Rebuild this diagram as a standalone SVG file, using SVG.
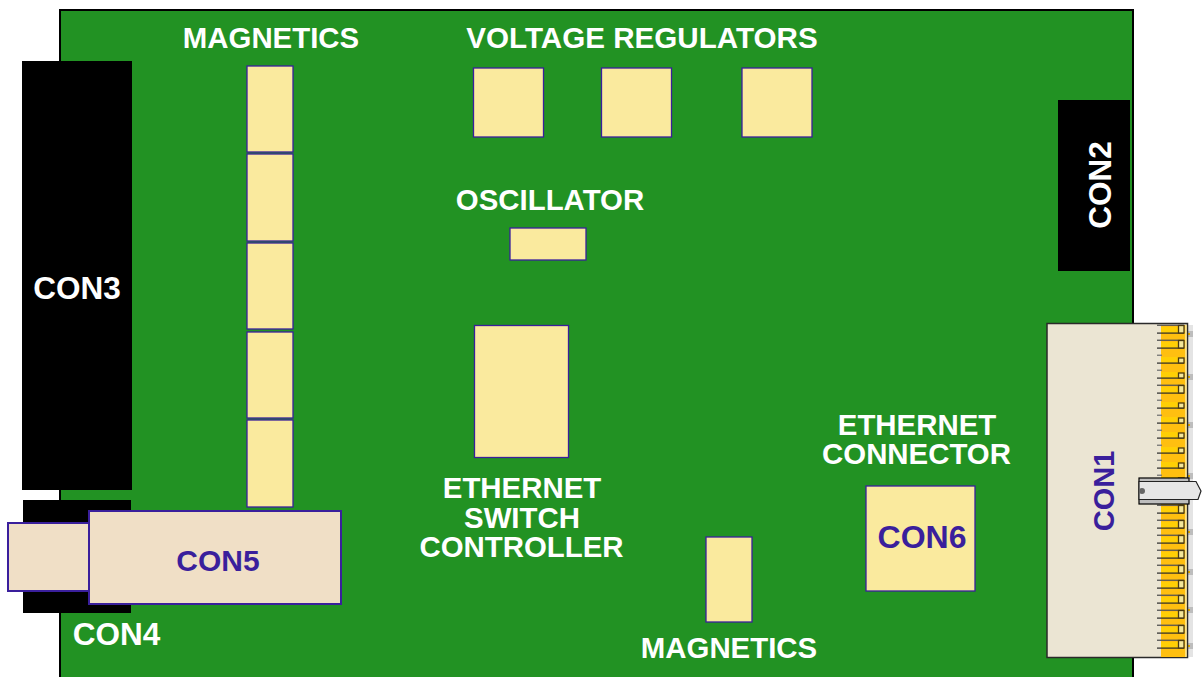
<svg xmlns="http://www.w3.org/2000/svg" width="1202" height="677" viewBox="0 0 1202 677">
<style>
.l{font-family:"Liberation Sans",Arial,sans-serif;font-weight:700;font-size:29.4px;fill:#fff;text-anchor:middle}
.n{font-size:31.5px}
.b{fill:#3a1f9c}
.c{fill:#faea9e;stroke:#3a1f9c;stroke-width:1.3}
.k{fill:#000}
.t{fill:#f0dfc6;stroke:#3a1f9c;stroke-width:2}
.tab{fill:#bdbdbd}
.dot{fill:#e0a800}
</style>
<defs>
<g id="pinbase">
<rect x="1161" y="325" width="24" height="15" fill="#ffbf10"/>
<rect x="1161" y="327" width="17" height="6" fill="#ffcf05"/>
<rect x="1157" y="332.500" width="27" height="1.200" fill="#2a2a2a"/>
</g>
<g id="full">
<use href="#pinbase"/>
<rect x="1157" y="324.600" width="27" height="1.300" fill="#555"/>
<rect x="1178.500" y="325.500" width="5.500" height="7.500" fill="#f3e69a" stroke="#4a3a10" stroke-width="1.300"/>
</g>
<g id="half">
<use href="#pinbase"/>
<rect x="1157" y="324.600" width="5" height="1.300" fill="#777"/>
<rect x="1178.500" y="328" width="5.500" height="5" fill="#f3e69a" stroke="#4a3a10" stroke-width="1.300"/>
</g>
<g id="tab"><rect class="tab" x="1188" y="-3" width="5" height="6"/><rect class="dot" x="1188" y="-1" width="2" height="2"/></g>
</defs>
<rect id="board" x="60" y="10" width="1073" height="670" fill="#229223" stroke="#000" stroke-width="2"/>
<g id="connectors"/>
<g id="con3"><rect class="k" x="22" y="61" width="110" height="429"/><text class="l n" x="77" y="299">CON3</text></g>
<g id="con2"><rect class="k" x="1058" y="100" width="72" height="171"/><text class="l n" transform="translate(1111 185) rotate(-90)">CON2</text></g>
<g id="con4"><rect class="k" x="23" y="500" width="108" height="113"/><text class="l n" x="116.500" y="645">CON4</text></g>
<g id="magnetics-a">
<rect class="c" x="247" y="66" width="46" height="86"/>
<rect class="c" x="247" y="154" width="46" height="87"/>
<rect class="c" x="247" y="243" width="46" height="86"/>
<rect class="c" x="247" y="332" width="46" height="86"/>
<rect class="c" x="247" y="420" width="46" height="87"/>
<text class="l" x="271" y="48">MAGNETICS</text>
</g>
<g id="regulators">
<rect class="c" x="473.500" y="68" width="70" height="69"/>
<rect class="c" x="601.500" y="68" width="70" height="69"/>
<rect class="c" x="742" y="68" width="70" height="69"/>
<text class="l" x="642" y="48" style="font-size:29.6px">VOLTAGE REGULATORS</text>
</g>
<g id="oscillator"><rect class="c" x="510" y="228" width="76" height="32"/><text class="l" x="550" y="210">OSCILLATOR</text></g>
<g id="switch"><rect class="c" x="474.500" y="325.500" width="94" height="132"/>
<text class="l" x="522" y="498">ETHERNET</text><text class="l" x="522" y="528">SWITCH</text><text class="l" x="521.500" y="557">CONTROLLER</text></g>
<g id="magnetics-b"><rect class="c" x="706" y="537" width="46" height="85"/><text class="l" x="729" y="658">MAGNETICS</text></g>
<g id="con6"><rect class="c" x="866" y="486" width="109" height="105"/><text class="l b" x="922" y="548" style="font-size:32px">CON6</text>
<text class="l" x="917" y="435">ETHERNET</text><text class="l" x="916.500" y="464">CONNECTOR</text></g>
<g id="con5"><rect class="t" x="8" y="523" width="82" height="68"/><rect class="t" x="89" y="511" width="252" height="93"/><text class="l b" x="218" y="571" style="font-size:30px">CON5</text></g>
<g id="con1">
<rect x="1188" y="325" width="5" height="332" fill="#e4e4e4"/>
<use href="#tab" y="334"/><use href="#tab" y="377"/><use href="#tab" y="425"/><use href="#tab" y="476"/><use href="#tab" y="532"/><use href="#tab" y="572"/><use href="#tab" y="610"/><use href="#tab" y="646"/>
<rect x="1047" y="323.500" width="140.500" height="334" fill="#ebe5d3" stroke="#2a2a2a" stroke-width="1.500"/>
<rect x="1161" y="325" width="24" height="332" fill="#ffbf10"/>
<rect x="1185" y="325" width="1.600" height="332" fill="#ffe27a"/>
<use href="#full"/><use href="#full" y="15"/>
<use href="#half" y="30"/><use href="#half" y="45"/>
<use href="#full" y="60"/>
<use href="#half" y="75"/><use href="#half" y="90"/><use href="#half" y="105"/><use href="#half" y="120"/><use href="#half" y="135"/><use href="#half" y="150"/>
<use href="#full" y="165"/><use href="#full" y="180"/><use href="#full" y="195"/><use href="#full" y="210"/><use href="#full" y="225"/><use href="#full" y="240"/><use href="#full" y="255"/><use href="#full" y="270"/><use href="#full" y="285"/><use href="#full" y="300"/><use href="#full" y="315"/>
<rect x="1139" y="478" width="50" height="26" fill="#bdbdbd" stroke="#000" stroke-width="1.200"/>
<path d="M1139 481.500H1196L1201 491L1198 499.500H1139Z" fill="#e6e6e6" stroke="#222" stroke-width="1.200"/>
<circle cx="1142" cy="491" r="3" fill="#666"/>
<text class="l b" transform="translate(1114 491) rotate(-90)" style="font-size:29px">CON1</text>
</g>
</svg>
